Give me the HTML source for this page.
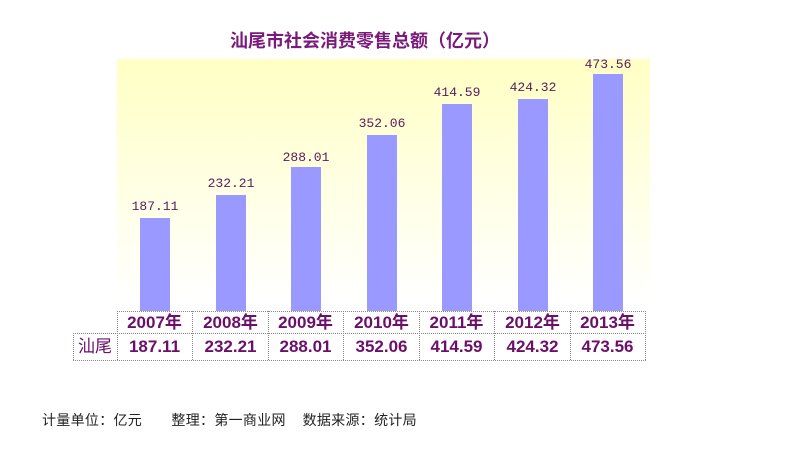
<!DOCTYPE html>
<html><head><meta charset="utf-8"><style>
body{margin:0;width:794px;height:449px;background:#fff;position:relative;overflow:hidden;font-family:"Liberation Sans","Noto Sans CJK SC",sans-serif}
.t{position:absolute;left:0;width:730px;top:27px;text-align:center;font-size:18px;font-weight:bold;color:#7a1a7a}
.plot{position:absolute;left:117px;top:59px;width:533px;height:252px;background:linear-gradient(to bottom,#ffffc4 0%,#ffffe0 45%,#ffffff 95%)}
.bar{position:absolute;width:30px;background:#9999ff}
.lbl{position:absolute;width:80px;text-align:center;font-family:"Liberation Mono",monospace;font-size:13px;color:#5a1a5a}
.c{position:absolute;text-align:center;font-weight:bold;font-size:17px;color:#6b0f6b;line-height:22px;width:75px}
.foot{position:absolute;left:42px;top:410px;font-size:14px;color:#222;white-space:pre;letter-spacing:0.3px}
</style></head><body>
<div class="t">汕尾市社会消费零售总额（亿元）</div>
<div class="plot"></div>
<div class="bar" style="left:140px;top:218px;height:93px"></div>
<div class="bar" style="left:216px;top:195px;height:116px"></div>
<div class="bar" style="left:291px;top:167px;height:144px"></div>
<div class="bar" style="left:367px;top:135px;height:176px"></div>
<div class="bar" style="left:442px;top:104px;height:207px"></div>
<div class="bar" style="left:518px;top:99px;height:212px"></div>
<div class="bar" style="left:593px;top:74px;height:237px"></div>
<div class="lbl" style="left:115px;top:199px">187.11</div>
<div class="lbl" style="left:191px;top:176px">232.21</div>
<div class="lbl" style="left:266px;top:150px">288.01</div>
<div class="lbl" style="left:342px;top:116px">352.06</div>
<div class="lbl" style="left:417px;top:85px">414.59</div>
<div class="lbl" style="left:493px;top:80px">424.32</div>
<div class="lbl" style="left:568px;top:57px">473.56</div>
<svg style="position:absolute;left:0;top:0" width="794" height="449">
<g stroke="#888" stroke-width="1" stroke-dasharray="1,1" fill="none">
<line x1="117" y1="311.5" x2="646" y2="311.5"/>
<line x1="73" y1="333.5" x2="646" y2="333.5"/>
<line x1="73" y1="360.5" x2="646" y2="360.5"/>
<line x1="73.5" y1="333" x2="73.5" y2="361"/>
<line x1="117.5" y1="311" x2="117.5" y2="361"/>
<line x1="192.5" y1="311" x2="192.5" y2="361"/>
<line x1="268.5" y1="311" x2="268.5" y2="361"/>
<line x1="343.5" y1="311" x2="343.5" y2="361"/>
<line x1="419.5" y1="311" x2="419.5" y2="361"/>
<line x1="494.5" y1="311" x2="494.5" y2="361"/>
<line x1="570.5" y1="311" x2="570.5" y2="361"/>
<line x1="645.5" y1="311" x2="645.5" y2="361"/>
</g></svg>
<div class="c" style="left:117px;top:312px">2007年</div>
<div class="c" style="left:193px;top:312px">2008年</div>
<div class="c" style="left:268px;top:312px">2009年</div>
<div class="c" style="left:344px;top:312px">2010年</div>
<div class="c" style="left:419px;top:312px">2011年</div>
<div class="c" style="left:495px;top:312px">2012年</div>
<div class="c" style="left:570px;top:312px">2013年</div>
<div class="c" style="left:73px;top:336px;width:44px;font-weight:normal">汕尾</div>
<div class="c" style="left:117px;top:336px">187.11</div>
<div class="c" style="left:193px;top:336px">232.21</div>
<div class="c" style="left:268px;top:336px">288.01</div>
<div class="c" style="left:344px;top:336px">352.06</div>
<div class="c" style="left:419px;top:336px">414.59</div>
<div class="c" style="left:495px;top:336px">424.32</div>
<div class="c" style="left:570px;top:336px">473.56</div>
<div class="foot">计量单位：亿元       整理：第一商业网    数据来源：统计局</div>
</body></html>
